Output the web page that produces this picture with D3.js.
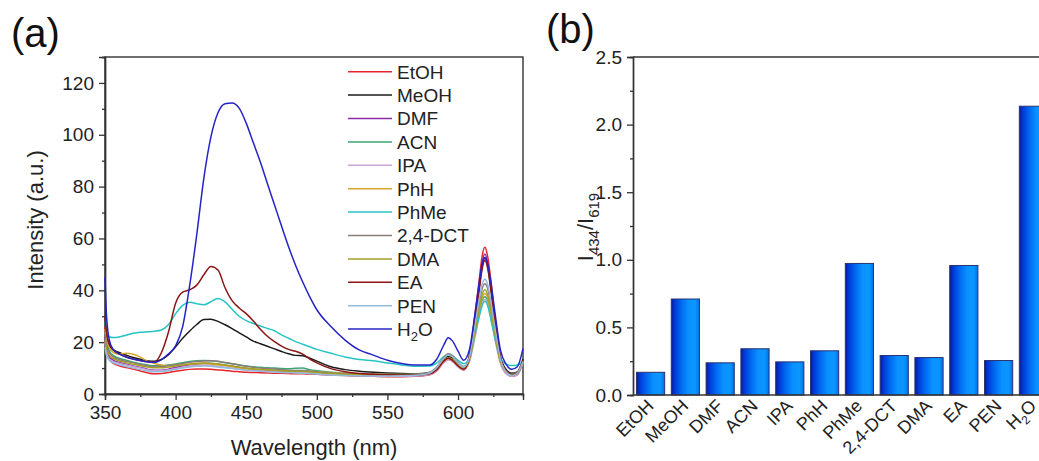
<!DOCTYPE html>
<html><head><meta charset="utf-8">
<script src="https://cdn.jsdelivr.net/npm/d3@7"></script>
<style>
body{margin:0;background:#fff;}
svg{display:block;font-family:"Liberation Sans",Arial,sans-serif;}
</style></head>
<body><svg id="c" width="1039" height="461"></svg>
<script>
// ---------- Panel (a) data ----------
const wavelengths = [350,351,353,356,360,365,370,375,380,385,390,395,400,405,410,415,420,425,430,435,440,445,450,455,460,465,470,475,480,485,490,495,500,510,520,530,540,550,560,570,580,585,590,593,596,600,604,608,612,615,617,619,621,623,626,630,634,638,642,646];
const solvents = ["EtOH","MeOH","DMF","ACN","IPA","PhH","PhMe","2,4-DCT","DMA","EA","PEN","H2O"];
const lineColors = ["#e8252b","#1a1a1a","#8a2aa8","#3ba673","#c9a3d9","#d6a628","#27c4c6","#8e7c7c","#a3a024","#8c1414","#93bcdc","#2424c4"];
const EtOH = [26,19,13.5,11.8,10.9,10.2,9.6,8.9,8.2,7.8,7.9,8.3,8.8,9.2,9.5,9.6,9.6,9.5,9.3,9.1,8.8,8.6,8.4,8.3,8.2,8.1,8,8,7.9,7.8,7.8,7.7,7.6,7.3,7.1,6.9,6.8,6.7,6.7,6.8,7.4,9,12.3,13.3,12.7,10.5,9.2,14.5,30.5,44,53,56.6,53,45,30,14,8.5,6.8,7.5,12.5];
const MeOH = [28,23,18.6,17,16,15,14.1,13.4,12.8,12.6,13.3,15.2,18.2,21.5,24.3,26.8,28.7,28.8,28,26.7,25.2,23.6,22,20.4,19.4,18.4,17.4,16.4,15.5,14.9,14.8,13.8,12.7,10.5,9.4,8.8,8.4,8.1,7.9,7.8,8.3,10,13.3,14.5,13.8,11.5,10,14.5,29,41,49,52.5,49.5,42,29,14.5,9.5,8,8.5,13.5];
const DMF = [22,18,14.5,13,12.2,11.5,10.8,10.2,9.6,9.2,9.2,9.6,10.2,10.8,11.3,11.6,11.8,11.8,11.5,11.1,10.7,10.2,9.8,9.5,9.2,9,8.8,8.6,8.5,8.4,8.4,8.2,8,7.6,7.3,7.1,7,6.9,6.9,7,7.7,9.5,12.8,13.8,13.2,11,9.6,14.3,29.5,42,50.5,54,50.5,43,29,13.8,8.3,6.9,7.6,12.5];
const ACN = [24,20,16.7,14.8,13.8,13,12.3,11.7,11.2,10.9,10.9,11.2,11.6,12.1,12.5,12.8,12.9,12.8,12.5,12.1,11.7,11.2,10.8,10.5,10.3,10.1,10,9.8,9.7,9.9,10,9.4,9,8.4,8,7.8,7.6,7.5,7.5,7.6,8.1,9.8,12.8,13.8,13.2,11,9.8,12.8,23,31,35.8,37.5,35.8,31,22.5,12.5,8.5,7.5,8.2,12.8];
const IPA = [20,16,13.5,12.5,11.8,11.2,10.6,10,9.4,9,9,9.3,9.8,10.3,10.7,11,11.1,11,10.7,10.3,10,9.6,9.3,9.1,8.9,8.7,8.6,8.5,8.4,8.3,8.3,8.1,7.9,7.5,7.2,7,6.9,6.8,6.8,6.9,7.5,9.2,12.3,13.3,12.7,10.5,9.3,12.3,22,30,34.8,36.5,34.8,30,21.5,11.8,7.8,6.8,7.5,12];
const PhH = [25,21,18,16,15.4,15.7,15.3,14.2,12.7,11.8,11.2,11,11,11.2,11.5,11.7,11.8,11.6,11.3,11,10.6,10.2,9.8,9.6,9.4,9.3,9.2,9.1,9,8.9,8.9,8.8,8.6,8.2,7.9,7.7,7.6,7.5,7.5,7.5,8,9.7,12.8,13.8,13.3,11,9.8,13,23.5,32,37,38.8,37,32,23,12.5,8.5,7.3,8,12.5];
const PhMe = [28,24,22,21.8,22,22.7,23.4,23.8,24,24.2,24.7,26.8,31,34.2,35.4,34.8,34.4,35.6,36.8,35.5,32.7,30,28.3,27.2,26.2,25.3,24.4,22.8,21.5,20.2,19.2,18.2,17.2,15.7,14.3,13.3,12.8,12,11.2,10.7,10.8,12,14.5,15.3,14.8,13,11.7,14,23,30,34,35.8,34,29.5,22,14,11.5,11,11.2,12.5];
const DCT = [23,19,16,14.2,13.3,12.6,12,11.4,10.9,10.6,10.6,10.9,11.3,11.8,12.2,12.5,12.7,12.8,12.6,12.2,11.7,11.2,10.7,10.3,10,9.8,9.6,9.4,9.2,9.1,9.1,8.9,8.6,8.1,7.8,7.6,7.5,7.4,7.4,7.6,8.4,10.5,14.2,15.5,14.8,12.3,10.6,14,25.5,35,40.5,42.5,40.5,35,25,13.2,8.8,7.6,8.3,12.8];
const DMA = [21,17.5,15,13.6,12.8,12.1,11.5,10.9,10.4,10.1,10.1,10.4,10.8,11.2,11.6,11.9,12,11.9,11.6,11.2,10.8,10.4,10,9.7,9.5,9.3,9.1,8.9,8.8,8.7,8.7,8.5,8.3,7.9,7.6,7.4,7.3,7.2,7.2,7.3,7.9,9.7,13,14,13.4,11.2,9.8,13.3,24,33,38.2,40.2,38.2,33,23.5,12.6,8.5,7.4,8.1,12.6];
const EA = [30,24,19.5,17,15.5,14.3,13.5,12.9,12.4,12.3,16,24,35,39.3,40.2,42,46,49.2,47.8,41,36,33.2,31,28.2,25,22.3,20.2,18.5,17.2,16.5,15.4,13.5,12,9.8,8.6,7.9,7.6,7.4,7.3,7.3,7.8,9.5,12.8,13.8,13,10.8,9.5,14,28,40,48,51.5,48.5,41,28,14,9,7.5,8,13];
const PEN = [18,15,13,12,11.3,10.6,10,9.4,8.9,8.6,8.7,9,9.5,10,10.4,10.7,10.8,10.7,10.4,10.1,9.8,9.5,9.2,9,8.8,8.6,8.5,8.3,8.2,8.1,8,7.9,7.7,7.3,7.1,7,6.9,6.9,7,7.2,8.1,10.2,13.8,15,14.4,12,10.4,14,26.5,36.5,42.2,44.3,42.2,36.5,26,13.5,8.6,7.2,8,12.5];
const H2O = [45,31,21,17,15.5,14.3,13.5,12.9,12.4,12.2,13.3,15.5,18.6,26,42,61.6,83.3,99.2,108.5,112,112.3,110.3,104.5,97,89.5,81.2,73,64.8,56.8,49.6,43.2,37.5,32.5,26,20.8,17,15,13,11.8,11.2,11.2,13.5,19,21.7,20.5,16.5,13,17,31,43,50,52.7,50,44,32,17,11.5,9.5,10.5,17.5];
const spectra = [EtOH,MeOH,DMF,ACN,IPA,PhH,PhMe,DCT,DMA,EA,PEN,H2O];
const xTicksA = [350,400,450,500,550,600];
const yTicksA = [0,20,40,60,80,100,120];

// ---------- Panel (b) data ----------
const ratios = [0.168,0.710,0.238,0.342,0.245,0.327,0.973,0.292,0.277,0.958,0.255,2.136];
const yTicksB = [0,0.5,1.0,1.5,2.0,2.5];

const svg = d3.select("#c");
const axisColor = "#333";
const tickFont = 19;

// ===== Panel (a) =====
const xA = d3.scaleLinear().domain([350,646]).range([105,523]);
const yA = d3.scaleLinear().domain([0,130]).range([394,57]);

const gA = svg.append("g");
gA.append("rect").attr("x",xA.range()[0]).attr("y",yA.range()[1])
  .attr("width",xA.range()[1]-xA.range()[0]).attr("height",yA.range()[0]-yA.range()[1])
  .attr("fill","none").attr("stroke",axisColor).attr("stroke-width",1.4);

function styleAxis(g){
  g.select(".domain").attr("stroke",axisColor).attr("stroke-width",1.4);
  g.selectAll(".tick line").attr("stroke",axisColor).attr("stroke-width",1.3);
  g.selectAll(".tick text").attr("fill","#222").attr("font-size",tickFont).attr("font-family","Liberation Sans, Arial, sans-serif");
}
const xAx = gA.append("g").attr("transform",`translate(0,${yA(0)})`)
  .call(d3.axisBottom(xA).tickValues(xTicksA).tickSize(6).tickPadding(6).tickFormat(d3.format("d")));
styleAxis(xAx);
const xAxMinor = gA.append("g").attr("transform",`translate(0,${yA(0)})`)
  .call(d3.axisBottom(xA).tickValues(d3.range(375,646,50)).tickSize(3).tickFormat(""));
styleAxis(xAxMinor);
const yAx = gA.append("g").attr("transform",`translate(${xA(350)},0)`)
  .call(d3.axisLeft(yA).tickValues(yTicksA).tickSize(6).tickPadding(5).tickFormat(d3.format("d")));
styleAxis(yAx);
const yAxMinor = gA.append("g").attr("transform",`translate(${xA(350)},0)`)
  .call(d3.axisLeft(yA).tickValues(d3.range(10,131,20)).tickSize(3).tickFormat(""));
styleAxis(yAxMinor);

const line = d3.line().x((d,i)=>xA(wavelengths[i])).y(d=>yA(d)).curve(d3.curveMonotoneX);
spectra.forEach((s,k)=>{
  gA.append("path").datum(s).attr("d",line).attr("fill","none")
    .attr("stroke",lineColors[k]).attr("stroke-width",1.5);
});

const legG = gA.append("g");
solvents.forEach((name,i)=>{
  const yy = 71.7 + i*23.4;
  legG.append("line").attr("x1",348).attr("x2",392).attr("y1",yy).attr("y2",yy)
    .attr("stroke",lineColors[i]).attr("stroke-width",1.5);
  const t = legG.append("text").attr("x",397).attr("y",yy+6.8).attr("font-size",19).attr("fill","#222");
  if(name==="H2O"){
    t.append("tspan").text("H");
    t.append("tspan").text("2").attr("font-size",13).attr("dy",5);
    t.append("tspan").text("O").attr("dy",-5);
  } else t.text(name);
});

gA.append("text").attr("x",314).attr("y",455).attr("text-anchor","middle")
  .attr("font-size",22).attr("fill","#222").text("Wavelength (nm)");
gA.append("text").attr("transform","translate(43,220) rotate(-90)").attr("text-anchor","middle")
  .attr("font-size",22).attr("fill","#222").text("Intensity (a.u.)");
svg.append("text").attr("x",11).attr("y",47).attr("font-size",40).attr("fill","#111").text("(a)");
svg.append("text").attr("x",546).attr("y",43).attr("font-size",40).attr("fill","#111").text("(b)");

// ===== Panel (b) =====
const xB = d3.scaleBand().domain(solvents).range([633,1051]).paddingInner(0.19).paddingOuter(0.1);
const yB = d3.scaleLinear().domain([0,2.5]).range([395,57]);
const gB = svg.append("g");

const defs = svg.append("defs");
const grad = defs.append("linearGradient").attr("id","barGrad").attr("x1","0%").attr("x2","100%").attr("y1","0%").attr("y2","0%");
[["0%","#0a1a90"],["12%","#0038d8"],["35%","#0068f0"],["62%","#0a92ff"],["85%","#0a96ff"],["100%","#0070ea"]]
  .forEach(([o,c])=>grad.append("stop").attr("offset",o).attr("stop-color",c));

gB.selectAll("rect.bar").data(ratios).enter().append("rect").attr("class","bar")
  .attr("x",(d,i)=>xB(solvents[i])).attr("y",d=>yB(d))
  .attr("width",xB.bandwidth()).attr("height",d=>yB(0)-yB(d))
  .attr("fill","url(#barGrad)").attr("stroke","#2a3470").attr("stroke-width",1);

gB.append("line").attr("x1",633).attr("x2",1060).attr("y1",57).attr("y2",57)
  .attr("stroke",axisColor).attr("stroke-width",1.4);
const xBx = gB.append("g").attr("transform",`translate(0,${yB(0)})`)
  .call(d3.axisBottom(xB).tickSize(0).tickFormat(""));
styleAxis(xBx);
xBx.select(".domain").attr("d","M633,0H1060");
const yBx = gB.append("g").attr("transform",`translate(633,0)`)
  .call(d3.axisLeft(yB).tickValues(yTicksB).tickSize(6).tickPadding(5).tickFormat(d3.format(".1f")));
styleAxis(yBx);
const yBxMinor = gB.append("g").attr("transform",`translate(633,0)`)
  .call(d3.axisLeft(yB).tickValues([0.25,0.75,1.25,1.75,2.25]).tickSize(3).tickFormat(""));
styleAxis(yBxMinor);

solvents.forEach((name)=>{
  const cx = xB(name)+xB.bandwidth()/2;
  const t = gB.append("text").attr("transform",`translate(${cx+4},${407}) rotate(-45)`)
    .attr("text-anchor","end").attr("font-size",18).attr("fill","#222");
  if(name==="H2O"){
    t.append("tspan").text("H");
    t.append("tspan").text("2").attr("font-size",12).attr("dy",5);
    t.append("tspan").text("O").attr("dy",-5);
  } else t.text(name);
});

const yt = gB.append("text").attr("transform","translate(593,227) rotate(-90)")
  .attr("text-anchor","middle").attr("font-size",22).attr("fill","#222");
yt.append("tspan").text("I");
yt.append("tspan").text("434").attr("font-size",15).attr("dy",6);
yt.append("tspan").text("/I").attr("dy",-6);
yt.append("tspan").text("619").attr("font-size",15).attr("dy",6);
</script></body></html>
